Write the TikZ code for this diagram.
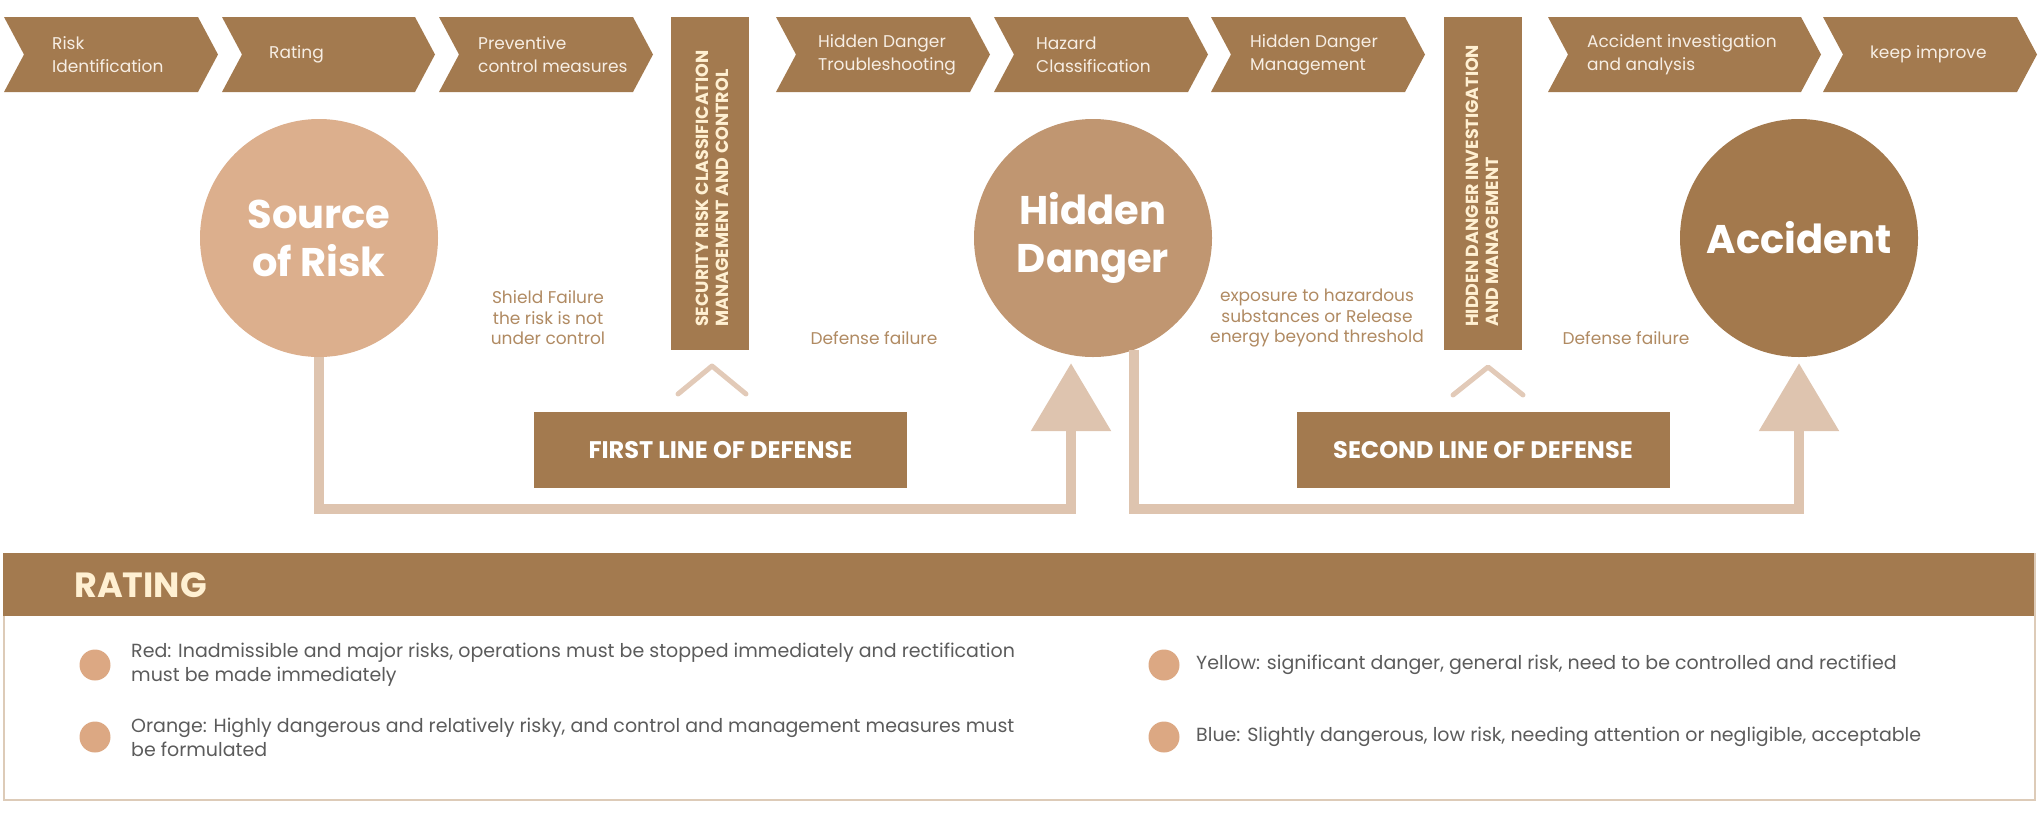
\documentclass[tikz,border=0pt]{standalone}
\usepackage{fontspec}
\setmainfont{Poppins}
\usetikzlibrary{arrows.meta,calc}
\definecolor{brownc}{HTML}{A37A4F}
\definecolor{srcc}{HTML}{DCAF8D}
\definecolor{hidc}{HTML}{C09671}
\definecolor{accc}{HTML}{A3794D}
\definecolor{linec}{HTML}{DEC4AF}
\definecolor{caretc}{HTML}{E2CAB8}
\definecolor{tanc}{HTML}{B08A62}
\definecolor{chevtxt}{HTML}{F7EEE4}
\definecolor{creamc}{HTML}{FFF0D2}
\definecolor{bulletc}{HTML}{DCA883}
\definecolor{grayc}{HTML}{5B5B5B}
\definecolor{panelc}{HTML}{DDCBB8}
\newcommand\chevron[5]{% left, body right, name, text x, text
  \fill[brownc] (#1,17) -- (#2,17) -- ({#2+20},54.5) -- (#2,92) -- (#1,92) -- ({#1+20},54.5) -- cycle;
  \node[chevtext] (#3) at (#4,54.5) {#5};
}
\begin{document}
\begin{tikzpicture}[x=1pt,y=-1pt,
  chevtext/.style={anchor=west, align=left, text=chevtxt, font=\fontsize{17}{23}\selectfont, inner sep=0pt},
  vbox/.style={fill=brownc, minimum width=78pt, minimum height=333pt, inner sep=0pt},
  vtext/.style={rotate=90, anchor=west, align=left, text=creamc, font=\bfseries\fontsize{17.5}{20}\selectfont, inner sep=0pt},
  bigcirc/.style={circle, minimum size=238pt, inner sep=0pt, text=white, align=center, font=\bfseries\fontsize{40}{48}\selectfont},
  defbox/.style={fill=brownc, minimum width=373pt, minimum height=76pt, inner sep=0pt, text=white, font=\bfseries\fontsize{24}{28}\selectfont},
  lbl/.style={text=tanc, align=center, font=\fontsize{17}{20.5}\selectfont, inner sep=0pt},
  flow/.style={draw=linec, line width=10pt, line join=miter, -{Triangle[width=78pt,length=68pt]}},
  caret/.style={draw=caretc, line width=5pt, line cap=round, line join=round},
  bullet/.style={circle, fill=bulletc, minimum size=31pt, inner sep=0pt},
  itemtext/.style={anchor=west, align=left, text=grayc, font=\fontsize{19}{24}\selectfont, inner sep=0pt},
]
\useasboundingbox (0,0) rectangle (2038,815);
% top process chevrons
\chevron{4}{198}{c1}{52}{Risk\\Identification}
\chevron{222}{415}{c2}{269}{Rating}
\chevron{439}{633}{c3}{478}{Preventive\\control measures}
\chevron{776}{970}{c4}{818}{Hidden Danger\\Troubleshooting}
\chevron{994}{1188}{c5}{1036}{Hazard\\Classification}
\chevron{1211}{1405}{c6}{1250}{Hidden Danger\\Management}
\chevron{1548}{1801}{c7}{1587}{Accident investigation\\and analysis}
\chevron{1823}{2017}{c8}{1870}{keep improve}
% vertical boxes
\node[vbox] (vb1) at (710,183.5) {};
\node[vtext] (vt1) at (712,327) {SECURITY RISK CLASSIFICATION\\MANAGEMENT AND CONTROL};
\node[vbox] (vb2) at (1482.5,183.5) {};
\node[vtext] (vt2) at (1482,327) {HIDDEN DANGER INVESTIGATION\\AND MANAGEMENT};
% circles
\node[bigcirc, fill=srcc] (src) at (319,238) {Source\\of Risk};
\node[bigcirc, fill=hidc] (hid) at (1093,238) {Hidden\\Danger};
\node[bigcirc, fill=accc] (acc) at (1799,238) {Accident};
% flows
\draw[flow] (src.south) |- ([xshift=-22pt,yshift=-151.5pt]hid.south) -- ([xshift=-22pt,yshift=-6pt]hid.south);
\draw[flow] (hid.-70) |- ([yshift=-151.5pt]acc.south) -- ([yshift=-6pt]acc.south);
% labels
\node[lbl] (l1) at (548,318) {Shield Failure\\the risk is not\\under control};
\node[lbl] (l2) at (874,338) {Defense failure};
\node[lbl] (l3) at (1317,318) {exposure to hazardous\\substances or Release\\energy beyond threshold};
\node[lbl] (l4) at (1626,338) {Defense failure};
% defense boxes and carets
\node[defbox] (d1) at (720.5,450) {FIRST LINE OF DEFENSE};
\node[defbox] (d2) at (1483,450) {SECOND LINE OF DEFENSE};
\draw[caret] (678,394) -- (712,366) -- (746,394);
\draw[caret] (1453,395) -- (1488,367) -- (1523,395);
% rating panel
\node[draw=panelc, line width=1.5pt, minimum width=2031pt, minimum height=246pt, inner sep=0pt, anchor=north west] (panel) at (3,553) {};
\node[fill=brownc, minimum width=2031pt, minimum height=63pt, inner sep=0pt, anchor=north west] (head) at (3,553) {};
\node[anchor=west, text=creamc, font=\bfseries\fontsize{35}{38}\selectfont, inner sep=0pt] (rt) at (74,585) {RATING};
\node[bullet] (b1) at (95,665) {};
\node[itemtext] (t1) at (131,665) {Red: Inadmissible and major risks, operations must be stopped immediately and rectification\\must be made immediately};
\node[bullet] (b2) at (95,737) {};
\node[itemtext] (t2) at (131,737) {Orange: Highly dangerous and relatively risky, and control and management measures must\\be formulated};
\node[bullet] (b3) at (1164,665) {};
\node[itemtext] (t3) at (1196,665) {Yellow: significant danger, general risk, need to be controlled and rectified};
\node[bullet] (b4) at (1164,737) {};
\node[itemtext] (t4) at (1196,737) {Blue: Slightly dangerous, low risk, needing attention or negligible, acceptable};
\end{tikzpicture}
\end{document}
